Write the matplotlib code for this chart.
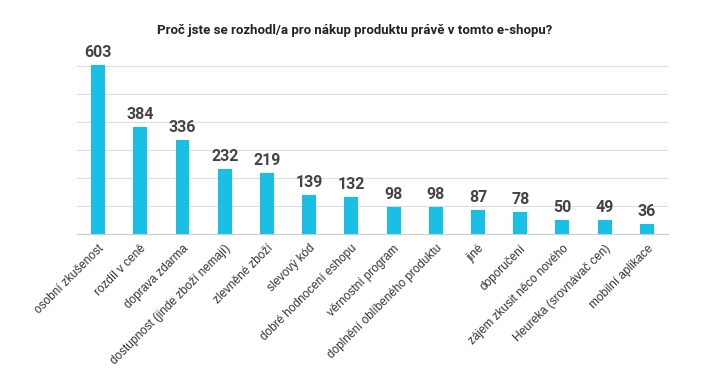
import numpy as np
import matplotlib.pyplot as plt

plt.rcParams['font.family'] = ['Roboto', 'DejaVu Sans']

categories = ['osobní zkušenost', 'rozdíl v ceně', 'doprava zdarma',
              'dostupnost (jinde zboží nemají)', 'zlevněné zboží', 'slevový kód',
              'dobré hodnocení eshopu', 'věrnostní program',
              'doplnění oblíbeného produktu', 'jiné', 'doporučení',
              'zájem zkusit něco nového', 'Heureka (srovnávač cen)', 'mobilní aplikace']
values = [603, 384, 336, 232, 219, 139, 132, 98, 98, 87, 78, 50, 49, 36]
yticks = [0, 100, 200, 300, 400, 500, 600]

fig = plt.figure(figsize=(7.09, 3.8), dpi=100)
ax = fig.add_axes([0.1086, 0.384, 0.8334, 0.442])

x = np.arange(len(categories))
bars = ax.bar(x, values, width=0.33, color='#1ABFE6', zorder=3, clip_on=False)
for xi, v in zip(x, values):
    ax.text(xi, v + 18, str(v), ha='center', va='bottom', fontsize=11.5,
            fontweight='bold', color='#444444')

ax.set_xlim(-0.5, len(categories) - 0.5)
ax.set_ylim(0, 600)
ax.set_yticks(yticks)
ax.yaxis.grid(True, color='#dddddd', linewidth=0.8, zorder=0)
ax.tick_params(axis='y', length=0, labelleft=False)
ax.tick_params(axis='x', length=0, pad=6)
ax.set_xticks(x)
ax.set_xticklabels(categories, rotation=45, ha='right', rotation_mode='anchor',
                   fontsize=8.5, color='#333333',
                   family=['Liberation Sans', 'DejaVu Sans'])
for s in ['top', 'right', 'left']:
    ax.spines[s].set_visible(False)
ax.spines['bottom'].set_color('#cccccc')

fig.text(0.5, 0.92, 'Proč jste se rozhodl/a pro nákup produktu právě v tomto e-shopu?',
         ha='center', va='center', fontsize=9.5, fontweight='bold', color='#222222')

fig.savefig('out.png', dpi=100)
